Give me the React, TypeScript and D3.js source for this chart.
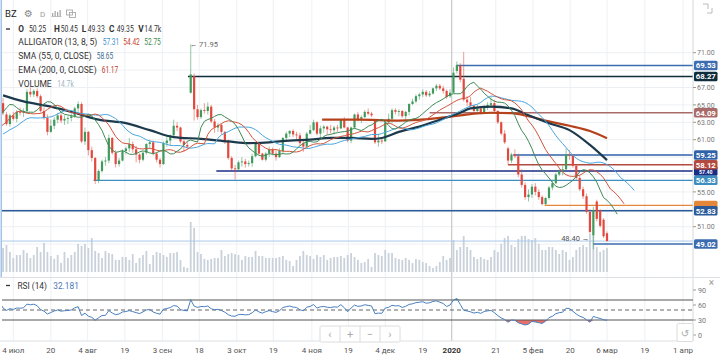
import React from 'react';
import * as d3 from 'd3';

// ---------- DATA ----------
// daily bars [open, high, low, close], trading days from 1 Jul 2019 to 6 Mar 2020
const candles: [number, number, number, number][] = [
  [65.2,65.8,63.8,64.1],[63.9,64.2,62.6,62.8],[62.8,64.0,62.5,63.8],[63.8,64.2,63.2,63.4],[63.4,64.4,63.0,64.2],
  [64.2,64.7,63.8,64.1],[64.1,64.6,63.6,64.3],[64.3,66.8,64.1,66.5],[66.5,67.0,65.9,66.2],[66.2,66.8,65.9,66.6],
  [66.6,66.9,65.8,66.0],[66.0,66.2,64.1,64.3],[64.3,64.7,63.3,63.5],[63.5,63.9,61.5,61.9],[61.9,63.3,61.8,62.6],
  [62.6,63.6,62.2,63.3],[63.3,64.1,62.9,63.8],[63.8,64.1,62.9,63.2],[63.2,63.8,62.7,63.4],[63.4,63.7,62.8,63.5],
  [63.5,64.1,63.1,63.7],[63.7,64.8,63.5,64.6],[64.6,65.4,64.2,65.1],[65.1,65.3,60.6,60.8],[60.8,62.4,60.4,61.9],
  [61.9,62.0,59.2,59.8],[59.8,60.2,58.5,58.9],[58.9,59.0,55.9,56.3],[56.3,57.6,56.0,57.4],[57.4,58.7,57.2,58.5],
  [58.5,59.0,58.0,58.6],[58.6,61.6,58.3,61.2],[61.2,61.3,59.3,59.5],[59.5,59.8,57.8,58.2],[58.2,58.9,57.9,58.6],
  [58.6,59.9,58.5,59.7],[59.7,60.2,59.3,60.0],[60.0,61.2,59.6,60.5],[60.5,60.8,59.5,59.9],[59.9,60.3,58.4,59.3],
  [59.3,59.4,58.3,58.7],[58.7,59.6,58.5,59.5],[59.5,60.6,59.3,60.5],[60.5,61.0,60.0,60.7],[60.7,60.9,59.2,59.4],
  [59.4,59.6,58.4,58.7],[58.7,58.9,57.8,58.2],[58.2,60.8,58.1,60.6],[60.6,61.4,60.2,60.9],[60.9,61.6,60.3,61.5],
  [61.5,63.3,61.3,62.6],[62.6,63.0,62.0,62.4],[62.4,62.5,60.6,60.8],[60.8,61.0,59.6,60.4],[60.4,60.8,59.9,60.2],
  [66.4,71.95,66.3,68.5],[68.3,68.6,63.2,64.5],[64.5,65.0,63.3,63.6],[63.6,64.6,63.4,64.4],[64.4,65.2,64.0,64.3],
  [64.3,65.3,63.9,64.8],[64.8,65.0,62.9,63.1],[63.1,63.4,61.8,62.4],[62.4,62.9,61.9,62.7],[62.7,62.9,61.6,61.9],
  [61.9,62.0,60.5,60.8],[60.8,61.0,58.7,58.9],[58.9,59.1,57.5,57.7],[57.7,58.1,56.4,57.6],[57.6,58.6,57.4,58.4],
  [58.4,59.0,57.9,58.5],[58.5,58.8,57.8,58.2],[58.2,58.6,57.9,58.3],[58.3,59.4,57.9,59.1],[59.1,60.7,59.0,60.5],
  [60.5,60.6,59.3,59.4],[59.4,59.5,58.6,58.7],[58.7,59.6,58.5,59.4],[59.4,60.2,59.0,59.9],[59.9,60.1,59.2,59.4],
  [59.4,59.8,58.6,59.0],[59.0,60.0,58.9,59.7],[59.7,61.3,59.4,61.2],[61.2,61.9,60.9,61.7],[61.7,62.1,61.3,62.0],
  [62.0,62.2,61.3,61.6],[61.6,61.9,61.0,61.5],[61.5,61.8,60.3,60.6],[60.6,61.0,59.6,60.2],[60.2,61.9,60.1,61.7],
  [61.7,62.7,61.6,62.1],[62.1,63.3,62.0,63.0],[63.0,63.1,61.5,61.7],[61.7,62.6,61.0,62.3],[62.3,62.7,61.8,62.5],
  [62.5,62.6,61.6,62.2],[62.2,62.7,61.7,62.1],[62.1,62.6,61.6,62.4],[62.4,62.7,61.9,62.3],[62.3,63.4,62.2,63.3],
  [63.3,63.6,62.3,62.4],[62.4,62.5,60.7,60.9],[60.9,62.5,60.6,62.4],[62.4,64.0,62.2,63.9],[63.9,64.2,63.1,63.4],
  [63.4,63.8,62.9,63.6],[63.6,64.4,63.5,64.2],[64.2,64.6,63.8,64.0],[64.0,64.2,63.6,63.8],[63.2,63.3,60.5,60.7],
  [60.7,61.7,60.2,60.9],[60.9,61.2,60.5,60.8],[60.8,63.2,60.8,63.0],[63.0,64.0,62.8,63.4],[63.4,64.6,62.9,64.4],
  [64.4,64.6,63.9,64.2],[64.2,64.5,63.7,64.3],[64.3,64.4,63.5,63.7],[63.7,64.3,63.1,64.2],[64.2,65.2,63.8,65.1],
  [65.1,65.7,65.0,65.4],[65.4,66.2,65.2,66.0],[66.0,66.4,65.6,66.2],[66.2,66.8,65.9,66.5],[66.5,66.7,65.9,66.1],
  [66.1,66.6,65.9,66.3],[66.3,67.0,66.2,66.9],[66.9,67.4,66.6,67.2],[67.2,67.4,66.7,66.9],[66.9,67.2,66.3,66.6],
  [66.6,66.8,65.7,65.9],[66.0,66.8,65.8,66.4],[66.4,69.3,66.3,68.7],[68.9,70.0,68.6,69.6],[69.5,69.8,67.6,67.9],
  [68.0,71.1,65.4,65.6],[65.6,66.0,64.9,65.3],[65.3,65.9,64.8,64.9],[64.9,65.0,64.0,64.3],[64.3,65.0,64.1,64.6],
  [64.6,64.8,63.9,64.1],[64.1,65.0,64.0,64.8],[64.8,65.3,64.4,65.0],[65.0,65.9,64.6,65.2],[65.2,65.6,64.1,64.3],
  [64.3,64.4,62.8,63.0],[63.0,63.1,61.5,61.7],[61.7,62.1,60.5,60.7],[60.0,60.2,58.1,58.6],[58.6,59.5,58.3,59.3],
  [59.3,59.9,58.9,59.1],[59.1,59.4,56.7,57.0],[57.0,57.6,55.5,55.8],[55.8,56.1,54.1,54.4],[54.4,55.3,53.9,54.7],
  [54.7,55.9,54.3,55.6],[55.6,56.0,54.6,55.0],[55.0,55.3,54.1,54.4],[54.4,54.6,53.45,53.6],[53.6,54.4,53.5,54.3],
  [54.3,55.7,54.1,55.5],[55.5,56.3,55.2,56.0],[56.0,57.2,55.9,57.0],[57.0,57.6,56.8,57.4],[57.4,58.0,56.9,57.6],
  [57.6,60.0,57.5,59.3],[59.3,59.8,58.7,59.2],[59.2,59.3,57.8,58.0],[58.0,58.1,56.4,56.6],[56.6,56.9,55.1,55.3],
  [55.3,55.6,54.2,54.5],[54.5,54.8,52.5,52.7],[52.7,53.0,50.2,50.4],[50.0,53.3,48.4,52.9],[53.9,54.1,51.6,51.9],
  [52.9,53.0,50.9,51.1],[51.8,52.0,49.7,49.9],[50.25,50.45,49.33,49.35],
];

// volume per bar, thousands of contracts
const volumes: number[] = [
  14.7,16.5,12.3,8.6,10.4,10.4,13.5,11.6,8.6,10.4,15.3,12.3,17.8,12.3,9.8,8.0,10.4,5.5,12.3,8.6,
  10.4,12.3,17.2,15.9,17.2,14.7,20.8,12.9,11.6,8.6,12.9,11.6,11.0,7.4,7.4,9.2,9.2,7.4,11.0,5.5,
  8.6,10.4,12.9,4.9,10.4,12.3,11.6,10.4,9.2,11.6,11.6,12.3,7.4,3.1,2.5,
  30.6,27.0,
  12.3,11.0,8.0,7.4,8.0,8.6,8.6,13.5,9.8,11.0,11.6,11.0,10.4,7.4,9.8,9.2,9.2,12.9,9.8,9.8,
  8.6,8.6,8.6,8.6,9.2,9.8,7.4,6.7,3.7,7.4,9.8,12.9,10.4,9.8,8.0,10.4,9.2,10.4,7.4,8.6,
  9.2,9.2,9.8,8.6,10.4,11.6,9.2,7.4,5.5,6.1,8.0,3.1,11.6,10.4,9.8,13.5,11.6,11.6,8.6,8.0,
  7.4,8.6,7.4,5.5,8.0,7.4,6.1,5.5,3.7,2.5,3.7,6.1,9.8,7.4,8.6,
  19.6,13.5,15.3,22.1,15.3,13.5,9.2,8.0,9.2,8.0,7.4,9.2,13.5,12.3,17.2,20.8,22.1,16.5,15.3,20.2,
  22.1,22.1,20.2,19.6,20.8,17.2,13.5,13.5,15.3,15.3,13.5,11.0,13.5,12.3,7.4,9.2,13.5,15.3,16.5,15.3,
  23.3,22.1,15.3,12.3,13.5,14.7,
];

// closes before the first visible bar (June 2019), used to seed indicators
const priorCloses = [61.3,62.0,60.6,61.7,63.3,62.3,62.3,60.0,61.3,62.0,60.9,62.1,61.8,64.5,65.2,64.9,65.1,66.5,66.6,66.6];

// SMA(55) and EMA(200): [bar index, value]
const sma55: [number, number][] = [
  [0,66.1],[6,65.4],[14,64.8],[21,64.1],[28,63.3],[36,62.9],[43,62.1],[50,61.3],[58,61.1],[66,60.8],
  [72,60.6],[78,60.7],[84,60.9],[90,61.0],[96,61.2],[102,61.2],[108,61.1],[111,61.2],[116,61.9],[122,62.5],
  [128,63.3],[134,64.1],[137,64.6],[143,64.8],[149,64.6],[154,63.8],[160,62.9],[166,62.1],[172,60.4],[177,58.65],
];
const ema200: [number, number][] = [
  [93.5,63.3],[104,63.3],[116,63.2],[128,63.5],[134,63.8],[143,64.1],[149,64.05],[154,63.7],[160,63.1],
  [166,62.6],[172,62.0],[177,61.17],
];

// horizontal price levels and the bar where each starts (tags drawn in this order)
const levelValues = [64.09, 69.53, 68.27, 59.25, 57.40, 58.12, 56.33, 53.45, 52.83, 49.02];
const levelStarts = [125, 133, 54.2, 149.5, 62.5, 148, 26.5, 158.7, -2, 173];
const levelHiddenTag = [false, false, false, false, false, false, false, true, false, false];
const levelColors = ['#a86b69', '#3b6db0', '#0f2e3d', '#2f62a8', '#1b2e86', '#b24a3f', '#3e8fc0', '#e4873a', '#2b5a9a', '#3c6cb0'];

const lastPrice = 49.35;

// x-axis ticks (label, bar position)
const tickLabels = ['4 июл','20','4 авг','19','3 сен','18','3 окт','19','4 ноя','19','4 дек','19','2020','21','5 фев','20','6 мар','19','1 апр'];
const tickPos = [3,14,24.8,35.7,46.7,57.5,68.5,79.2,90.5,101.2,112,123,131.5,144.4,155.3,166.2,177,188.1,199.3];

const priceTicks = [49,51,53,55,57,59,61,63,65,67,69,71];
const rsiTicks = [0,30,60,90];

// legend texts
const ohlcLabels = ['O', 'H', 'L', 'C', 'V'];
const ohlcValues = ['50.25', '50.45', '49.33', '49.35', '14.7k'];
const alligatorValues = ['57.31', '54.42', '52.75'];

// ---------- helpers ----------
function smma(src: number[], n: number): (number | null)[] {
  const out: (number | null)[] = new Array(src.length).fill(null);
  let v = 0;
  for (let i = 0; i < src.length; i++) {
    if (i < n - 1) continue;
    if (i === n - 1) v = d3.mean(src.slice(0, n)) as number;
    else v = (v * (n - 1) + src[i]) / n;
    out[i] = v;
  }
  return out;
}

function rsiCalc(src: number[], n: number): (number | null)[] {
  const out: (number | null)[] = new Array(src.length).fill(null);
  let ag = 0, al = 0;
  for (let i = 1; i < src.length; i++) {
    const d = src[i] - src[i - 1];
    const g = Math.max(d, 0), l = Math.max(-d, 0);
    if (i <= n) {
      ag += g / n; al += l / n;
      if (i === n) out[i] = al === 0 ? 100 : 100 - 100 / (1 + ag / al);
    } else {
      ag = (ag * (n - 1) + g) / n;
      al = (al * (n - 1) + l) / n;
      out[i] = al === 0 ? 100 : 100 - 100 / (1 + ag / al);
    }
  }
  return out;
}

const FONT = "Roboto, 'Liberation Sans', Arial, sans-serif";

export default function App() {
  const W = 720, H = 355;
  const plotL = 2, plotR = 693, mainBottom = 277.5, rsiTop = 278, rsiBottom = 341;

  const x = d3.scaleLinear().domain([0, 177]).range([3.06, 607]);
  const y = d3.scaleLinear().domain([49, 71]).range([244.1, 52.7]);
  const yR = d3.scaleLinear().domain([0, 90]).range([335, 290]);
  const yV = d3.scaleLinear().domain([0, d3.max(volumes) as number]).range([272, 222]);

  const P = priorCloses.length;
  const med = priorCloses.concat(candles.map(c => (c[1] + c[2]) / 2));
  const alligator = (n: number, shift: number) => {
    const s = smma(med, n);
    const pts: [number, number][] = [];
    s.forEach((v, k) => { if (v != null) pts.push([k - P + shift, v]); });
    return d3.line<[number, number]>().x(d => x(d[0])).y(d => y(d[1]))(pts) || '';
  };
  const jaw = alligator(13, 8);
  const teeth = alligator(8, 5);
  const lips = alligator(5, 3);

  const smooth = (pts: [number, number][]) =>
    d3.line<[number, number]>().x(d => x(d[0])).y(d => y(d[1])).curve(d3.curveMonotoneX)(pts) || '';

  const closesAll = priorCloses.concat(candles.map(c => c[3]));
  const rsiAll = rsiCalc(closesAll, 14);
  const rsiPts: [number, number][] = [];
  rsiAll.forEach((v, k) => { if (v != null && k - P >= -1) rsiPts.push([k - P, v]); });
  const rsiLine = d3.line<[number, number]>().x(d => x(d[0])).y(d => yR(d[1]))(rsiPts) || '';
  const rsiLow = d3.area<[number, number]>().x(d => x(d[0])).y0(yR(30)).y1(d => yR(Math.min(d[1], 30)))(rsiPts) || '';
  const rsiHigh = d3.area<[number, number]>().x(d => x(d[0])).y0(yR(70)).y1(d => yR(Math.max(d[1], 70)))(rsiPts) || '';

  const tagH = 9.5;
  const tagFont = 7.8;
  const tagYs = levelValues.map(v => y(v));
  const visiblePriceTicks = priceTicks.filter(p => tagYs.every(ty => Math.abs(ty - y(p)) >= 7));

  // visible band of each tag: parts covered by tags drawn later are hidden
  const tagVisible = tagYs.map((ty, i) => {
    let top = ty - tagH / 2, bottom = ty + tagH / 2;
    for (let j = i + 1; j < tagYs.length; j++) {
      const oy = tagYs[j];
      if (Math.abs(oy - ty) >= tagH) continue;
      if (oy < ty) top = Math.max(top, oy + tagH / 2);
      else bottom = Math.min(bottom, oy - tagH / 2);
    }
    return [top, bottom];
  });
  // text fitted into the visible band of the tag
  const tagText = tagVisible.map((b, i) => {
    const band = b[1] - b[0];
    if (band >= tagH - 0.5) return { fs: tagFont, base: tagYs[i] + 2.8 };
    const fs = Math.max(3, band / 1.17);
    return { fs, base: b[1] - 0.24 * fs };
  });

  const up = '#3f9a5c', down = '#e2483d';

  const txt = { fontFamily: FONT, fontSize: 8.3, fill: '#333' } as const;
  const numLen = 17;
  const ohlcLabelX = [18.3, 54, 81.7, 109, 138.3];
  const ohlcValueX = [29, 60.7, 87.7, 116.7, 144.3];
  const allX = [102.7, 123.3, 144.3];
  const allColors = ['#3c8fd0', '#c9452f', '#3c8a4f'];

  return (
    <svg width={W} height={H} style={{ position: 'absolute', left: 0, top: 0, background: '#fff' }} xmlns="http://www.w3.org/2000/svg">
      <defs>
        <clipPath id="mainClip"><rect x={plotL} y={0} width={plotR - plotL} height={mainBottom} /></clipPath>
        <clipPath id="rsiClip"><rect x={plotL} y={rsiTop} width={plotR - plotL} height={rsiBottom - rsiTop} /></clipPath>
      </defs>
      <rect x={0} y={0} width={W} height={H} fill="#fff" />

      {/* grid */}
      <g stroke="#edf0f3" strokeWidth={1}>
        {priceTicks.map(p => <line key={'h' + p} x1={plotL} x2={plotR} y1={y(p)} y2={y(p)} />)}
        {tickPos.map((t, i) => tickLabels[i] !== '2020' ? <line key={'v' + i} x1={x(t)} x2={x(t)} y1={0} y2={rsiBottom} /> : null)}
      </g>
      {tickPos.map((t, i) => tickLabels[i] === '2020' ?
        <line key="y2020" x1={x(t)} x2={x(t)} y1={0} y2={rsiBottom} stroke="#bdbdbd" strokeWidth={1} /> : null)}

      {/* volume */}
      <g clipPath="url(#mainClip)">
        {volumes.map((v, i) => (
          <rect key={'vol' + i} x={x(i) - 0.9} y={yV(v)} width={1.8} height={272 - yV(v)} fill="#c9d2db" />
        ))}
      </g>

      {/* current price line */}
      <line x1={plotL} x2={plotR} y1={y(lastPrice)} y2={y(lastPrice)} stroke="#a9c8ea" strokeWidth={1} />

      {/* level lines */}
      <g clipPath="url(#mainClip)">
        {levelValues.map((v, i) => (
          <line key={'lv' + i} x1={Math.max(plotL, x(levelStarts[i]))} x2={plotR} y1={y(v)} y2={y(v)}
            stroke={levelColors[i]} strokeWidth={1.4} />
        ))}
      </g>

      {/* candles */}
      <g clipPath="url(#mainClip)">
        {candles.map((c, i) => {
          const [o, h, l, cl] = c;
          const col = cl >= o ? up : down;
          const top = y(Math.max(o, cl));
          const bh = Math.max(0.8, Math.abs(y(o) - y(cl)));
          return (
            <g key={'c' + i}>
              <line x1={x(i)} x2={x(i)} y1={y(h)} y2={y(l)} stroke={col} strokeOpacity={0.55} strokeWidth={1} />
              <rect x={x(i) - 1.1} y={top} width={2.2} height={bh} fill={col} />
            </g>
          );
        })}
      </g>

      {/* indicators */}
      <g clipPath="url(#mainClip)" fill="none">
        <path d={smooth(ema200)} stroke="#b5421b" strokeWidth={2.2} />
        <path d={smooth(sma55)} stroke="#1d3a4c" strokeWidth={2.2} />
        <path d={jaw} stroke="#49a6df" strokeWidth={1} />
        <path d={teeth} stroke="#d2553e" strokeWidth={1} />
        <path d={lips} stroke="#3f8a55" strokeWidth={1} />
      </g>

      {/* annotations */}
      <text x={x(55) - 1} y={47} style={{ fontFamily: FONT, fontSize: 7.5, fill: '#666' }}>← 71.95</text>
      <text x={x(173) - 4} y={241} textAnchor="end" style={{ fontFamily: FONT, fontSize: 7.5, fill: '#555' }}>48.40 →</text>

      {/* left focus border */}
      <line x1={1.2} x2={1.2} y1={0} y2={mainBottom} stroke="#8db3e2" strokeWidth={1.2} />

      {/* right price axis */}
      <line x1={plotR} x2={plotR} y1={0} y2={rsiBottom} stroke="#d5d8dc" strokeWidth={1} />
      {visiblePriceTicks.map(p => (
        <g key={'pt' + p}>
          <line x1={plotR} x2={plotR + 3} y1={y(p)} y2={y(p)} stroke="#999" />
          <text x={plotR + 4} y={y(p) + 2.6} style={{ fontFamily: FONT, fontSize: 7, fill: '#777' }}>{p.toFixed(2)}</text>
        </g>
      ))}
      {levelValues.map((v, i) => (
        <g key={'tag' + i}>
          <rect x={plotR + 1} y={y(v) - tagH / 2} width={23.5} height={tagH} rx={1.5} fill={levelColors[i]} />
          {levelHiddenTag[i] ? null :
            <text x={plotR + 12.75} y={tagText[i].base} textAnchor="middle"
              style={{ fontFamily: FONT, fontSize: tagText[i].fs, fontWeight: 700, fill: '#fff' }}>{v.toFixed(2)}</text>}
        </g>
      ))}

      {/* pane separators */}
      <line x1={0} x2={W} y1={mainBottom} y2={mainBottom} stroke="#dcdfe3" />
      <line x1={0} x2={plotR} y1={rsiBottom} y2={rsiBottom} stroke="#dcdfe3" />

      {/* RSI pane */}
      <g clipPath="url(#rsiClip)">
        <path d={rsiLow} fill="#e8706a" />
        <path d={rsiHigh} fill="#5dbb6a" />
        <line x1={plotL} x2={plotR} y1={yR(70)} y2={yR(70)} stroke="#555" strokeWidth={1} />
        <line x1={plotL} x2={plotR} y1={yR(30)} y2={yR(30)} stroke="#555" strokeWidth={1} />
        <line x1={plotL} x2={plotR} y1={yR(50)} y2={yR(50)} stroke="#666" strokeWidth={1} strokeDasharray="4,3" />
        <path d={rsiLine} fill="none" stroke="#4a7fc0" strokeWidth={1} />
      </g>
      {rsiTicks.map(r => (
        <g key={'rt' + r}>
          <line x1={plotR} x2={plotR + 3} y1={yR(r)} y2={yR(r)} stroke="#999" />
          <text x={plotR + 5} y={yR(r) + 2.6} style={{ fontFamily: FONT, fontSize: 7.2, fill: '#777' }}>{r}</text>
        </g>
      ))}
      <text x={711.5} y={285.5} textAnchor="middle" style={{ fontFamily: FONT, fontSize: 10, fill: '#999' }}>×</text>
      <line x1={6} x2={10} y1={285.5} y2={285.5} stroke="#333" strokeWidth={1.3} />
      <text x={17.5} y={289.3} style={txt}>RSI (14)</text>
      <text x={53.3} y={289.3} style={{ ...txt, fill: '#4a78b5' }}>32.181</text>

      {/* navigation buttons */}
      <g>
        <rect x={320} y={326} width={80} height={16} fill="#fff" stroke="#dcdcdc" rx={1.5} />
        {[340, 360, 380].map(d => <line key={'bd' + d} x1={d} x2={d} y1={326} y2={342} stroke="#dcdcdc" />)}
        {['‹', '+', '−', '›'].map((g, i) => (
          <text key={'bg' + i} x={330 + i * 20} y={337.5} textAnchor="middle" style={{ fontFamily: FONT, fontSize: 11, fill: '#aaa' }}>{g}</text>
        ))}
        <rect x={677} y={323.5} width={16} height={18} fill="#fff" stroke="#dcdcdc" rx={1.5} />
        <text x={685} y={336.5} textAnchor="middle" style={{ fontFamily: "'DejaVu Sans', sans-serif", fontSize: 10, fill: '#aaa' }}>↺</text>
      </g>

      {/* x axis */}
      {tickLabels.map((lab, i) => (
        <text key={'xl' + i} x={x(tickPos[i])} y={352.5} textAnchor="middle"
          style={{ fontFamily: FONT, fontSize: 8, fill: lab === '2020' ? '#333' : '#555', fontWeight: lab === '2020' ? 700 : 400 }}>{lab}</text>
      ))}

      {/* header */}
      <text x={5} y={16.7} style={{ fontFamily: FONT, fontSize: 9.5, fill: '#222' }}>BZ</text>
      <text x={24} y={17} style={{ fontFamily: "'DejaVu Sans', sans-serif", fontSize: 10, fill: '#888' }}>⚙</text>
      <text x={40} y={17} style={{ fontFamily: FONT, fontSize: 8, fill: '#999' }}>D</text>
      <g fill="#aaa">
        <rect x={52} y={13} width={1.3} height={3.5} />
        <rect x={54.5} y={11} width={1.3} height={5.5} />
        <rect x={57} y={12} width={1.3} height={4.5} />
        <rect x={59.5} y={10} width={1.3} height={6.5} />
        <rect x={51.5} y={16.3} width={10} height={0.7} />
      </g>
      <g fill="none" stroke="#aaa" strokeWidth={0.9}>
        <rect x={66.5} y={10} width={6} height={5} />
        <rect x={69.5} y={12.5} width={6} height={5} />
      </g>
      <path d="M703 4 h5 v5 M712 13 v-5 M712 13 h-5" stroke="#bbb" fill="none" strokeWidth={1} />

      <line x1={6} x2={10} y1={29} y2={29} stroke="#222" strokeWidth={1.3} />
      <g style={txt}>
        {ohlcLabels.map((l, i) => <text key={'ol' + i} x={ohlcLabelX[i]} y={32.3} fontWeight={700}>{l}</text>)}
        {ohlcValues.map((v, i) => (
          <text key={'ov' + i} x={ohlcValueX[i]} y={32.3} textLength={numLen} lengthAdjust="spacingAndGlyphs">{v}</text>
        ))}

        <text x={18.3} y={45.3} textLength={79} lengthAdjust="spacingAndGlyphs">ALLIGATOR (13, 8, 5)</text>
        {alligatorValues.map((v, i) => (
          <text key={'av' + i} x={allX[i]} y={45.3} fill={allColors[i]} textLength={numLen - 0.5} lengthAdjust="spacingAndGlyphs">{v}</text>
        ))}

        <text x={18.3} y={59} textLength={73.4} lengthAdjust="spacingAndGlyphs">SMA (55, 0, CLOSE)</text>
        <text x={96.7} y={59} fill="#3e6e8e" textLength={numLen - 0.5} lengthAdjust="spacingAndGlyphs">58.65</text>

        <text x={18.3} y={73.2} textLength={78.4} lengthAdjust="spacingAndGlyphs">EMA (200, 0, CLOSE)</text>
        <text x={101.7} y={73.2} fill="#c0392b" textLength={numLen - 0.5} lengthAdjust="spacingAndGlyphs">61.17</text>

        <text x={18.3} y={87.2} textLength={33.4} lengthAdjust="spacingAndGlyphs">VOLUME</text>
        <text x={57.3} y={87.2} fill="#a4b4c4" textLength={numLen - 0.5} lengthAdjust="spacingAndGlyphs">14.7k</text>
      </g>
    </svg>
  );
}
